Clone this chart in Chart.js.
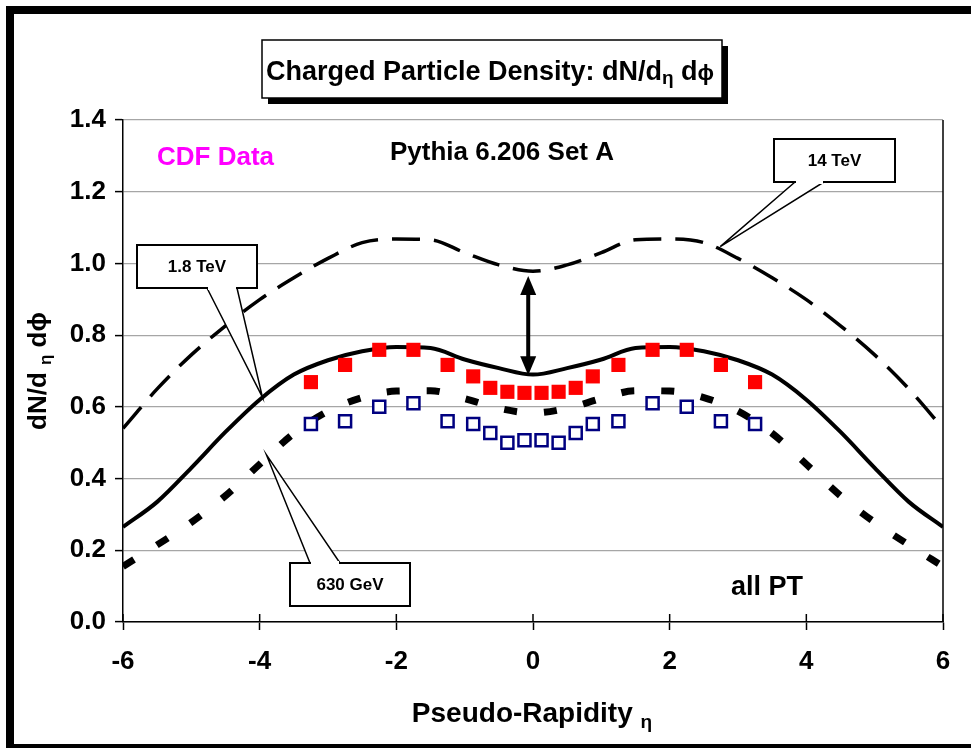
<!DOCTYPE html>
<html>
<head>
<meta charset="utf-8">
<title>Charged Particle Density</title>
<script src="https://cdn.jsdelivr.net/npm/chart.js@4.4.1/dist/chart.umd.min.js"></script>
<style>
  body { margin: 0; background: #fff; }
  #wrap { width: 971px; height: 748px; }
</style>
</head>
<body>
<div id="wrap"><canvas id="chart" width="971" height="748"></canvas></div>
<script>
// Pythia 6.206 Set A curves, sampled every 0.5 in eta
const etaGrid = [-6, -5.5, -5, -4.5, -4, -3.5, -3, -2.5, -2, -1.5, -1, -0.5, 0,
                 0.5, 1, 1.5, 2, 2.5, 3, 3.5, 4, 4.5, 5, 5.5, 6];
const pythia14TeV = [0.54, 0.65, 0.745, 0.826, 0.899, 0.96, 1.014, 1.058, 1.068, 1.066, 1.03, 0.996, 0.978,
                     0.996, 1.03, 1.066, 1.068, 1.058, 1.014, 0.96, 0.899, 0.826, 0.745, 0.65, 0.54];
const pythia18TeV = [0.265, 0.335, 0.43, 0.53, 0.62, 0.69, 0.73, 0.755, 0.767, 0.764, 0.732, 0.708, 0.69,
                     0.708, 0.732, 0.764, 0.767, 0.755, 0.73, 0.69, 0.62, 0.53, 0.43, 0.335, 0.265];
const pythia630GeV = [0.155, 0.215, 0.278, 0.352, 0.44, 0.526, 0.588, 0.626, 0.644, 0.645, 0.623, 0.596, 0.583,
                      0.596, 0.623, 0.645, 0.644, 0.626, 0.588, 0.526, 0.44, 0.352, 0.278, 0.215, 0.155];

// CDF data points
const cdfEta = [-3.25, -2.75, -2.25, -1.75, -1.25, -0.875, -0.625, -0.375, -0.125,
                0.125, 0.375, 0.625, 0.875, 1.25, 1.75, 2.25, 2.75, 3.25];
const cdf18TeV = [0.669, 0.717, 0.759, 0.759, 0.717, 0.685, 0.653, 0.642, 0.639,
                  0.639, 0.642, 0.653, 0.685, 0.717, 0.759, 0.759, 0.717, 0.669];
const cdf630GeV = [0.552, 0.56, 0.6, 0.61, 0.56, 0.552, 0.527, 0.5, 0.507,
                   0.507, 0.5, 0.527, 0.552, 0.56, 0.61, 0.6, 0.56, 0.552];

const xTicks = [-6, -4, -2, 0, 2, 4, 6];
const yTicks = [0, 0.2, 0.4, 0.6, 0.8, 1.0, 1.2, 1.4];

// callouts: label, box (px), pointer tip (data)
const callouts = [
    { text: '1.8 TeV', box: [137, 245, 120, 43], base: [207, 237], tip: [-3.96, 0.627] },
    { text: '14 TeV', box: [774, 139, 121, 43], base: [795, 824], tip: [2.74, 1.047] },
    { text: '630 GeV', box: [290, 563, 120, 43], base: [310, 340], tip: [-3.9, 0.466] }
];
const arrowEta = -0.07;
const arrowFrom = 0.965;
const arrowTo = 0.688;

const FONT = '"Liberation Sans", Arial, sans-serif';

const toXY = (xs, ys) => xs.map((x, i) => ({ x: x, y: ys[i] }));

function drawPieces(ctx, pieces, cx, y) {
    // pieces: [text, size, dy]
    let total = 0;
    pieces.forEach(p => {
        ctx.font = 'bold ' + p[1] + 'px ' + FONT;
        p.w = ctx.measureText(p[0]).width;
        total += p.w;
    });
    let x = cx - total / 2;
    ctx.textAlign = 'left';
    ctx.textBaseline = 'alphabetic';
    pieces.forEach(p => {
        ctx.font = 'bold ' + p[1] + 'px ' + FONT;
        ctx.fillText(p[0], x, y + p[2]);
        x += p.w;
    });
}

const decor = {
    id: 'decor',
    beforeDraw(chart) {
        const ctx = chart.ctx;
        ctx.save();
        ctx.fillStyle = '#fff';
        ctx.fillRect(0, 0, chart.width, chart.height);
        ctx.restore();
    },
    afterDatasetsDraw(chart) {
        const ctx = chart.ctx;
        const xs = chart.scales.x, ys = chart.scales.y;
        const area = chart.chartArea;
        ctx.save();

        // right border of plot area
        ctx.strokeStyle = '#000';
        ctx.lineWidth = 1.5;
        ctx.beginPath();
        ctx.moveTo(area.right, area.top);
        ctx.lineTo(area.right, area.bottom);
        ctx.stroke();

        // x tick marks above the axis
        xTicks.forEach(t => {
            const px = xs.getPixelForValue(t);
            ctx.beginPath();
            ctx.moveTo(px, area.bottom - 8);
            ctx.lineTo(px, area.bottom);
            ctx.stroke();
        });

        // double arrow between 1.8 TeV and 14 TeV at eta = 0
        const ax = xs.getPixelForValue(arrowEta);
        const ay1 = ys.getPixelForValue(arrowFrom);
        const ay2 = ys.getPixelForValue(arrowTo);
        ctx.fillStyle = '#000';
        ctx.lineWidth = 4;
        ctx.beginPath();
        ctx.moveTo(ax, ay1 + 14);
        ctx.lineTo(ax, ay2 - 14);
        ctx.stroke();
        ctx.beginPath();
        ctx.moveTo(ax, ay1);
        ctx.lineTo(ax - 8, ay1 + 19);
        ctx.lineTo(ax + 8, ay1 + 19);
        ctx.closePath();
        ctx.fill();
        ctx.beginPath();
        ctx.moveTo(ax, ay2);
        ctx.lineTo(ax - 8, ay2 - 19);
        ctx.lineTo(ax + 8, ay2 - 19);
        ctx.closePath();
        ctx.fill();

        // callout boxes
        callouts.forEach(c => {
            const [bx, by, bw, bh] = c.box;
            const tx = xs.getPixelForValue(c.tip[0]);
            const ty = ys.getPixelForValue(c.tip[1]);
            const edge = ty > by ? by + bh : by;
            ctx.fillStyle = '#fff';
            ctx.strokeStyle = '#000';
            ctx.lineWidth = 1.5;
            ctx.beginPath();
            ctx.moveTo(c.base[0], edge);
            ctx.lineTo(tx, ty);
            ctx.lineTo(c.base[1], edge);
            ctx.closePath();
            ctx.fill();
            ctx.stroke();
            ctx.lineWidth = 2;
            ctx.fillRect(bx, by, bw, bh);
            ctx.strokeRect(bx, by, bw, bh);
            // cover the pointer join
            ctx.fillRect(c.base[0] + 1, edge - 2, c.base[1] - c.base[0] - 2, 4);
            ctx.fillStyle = '#000';
            ctx.font = 'bold 17px ' + FONT;
            ctx.textAlign = 'center';
            ctx.textBaseline = 'middle';
            ctx.fillText(c.text, bx + bw / 2, by + bh / 2 + 1);
        });

        // in-plot labels
        ctx.font = 'bold 26px ' + FONT;
        ctx.textBaseline = 'middle';
        ctx.textAlign = 'left';
        ctx.fillStyle = '#ff00ff';
        ctx.fillText('CDF Data', 157, 158);
        ctx.fillStyle = '#000';
        ctx.fillText('Pythia 6.206 Set A', 390, 153);
        ctx.font = 'bold 27px ' + FONT;
        ctx.fillText('all PT', 731, 588);
        ctx.restore();
    },
    afterDraw(chart) {
        const ctx = chart.ctx;
        ctx.save();

        // title box with shadow
        ctx.fillStyle = '#000';
        ctx.fillRect(268, 46, 460, 58);
        ctx.fillStyle = '#fff';
        ctx.fillRect(262, 40, 460, 58);
        ctx.strokeStyle = '#000';
        ctx.lineWidth = 1.5;
        ctx.strokeRect(262, 40, 460, 58);
        ctx.fillStyle = '#000';
        drawPieces(ctx, [['Charged Particle Density: dN/d', 27, 0], ['η', 19, 4], [' d', 27, 0], ['ϕ', 22, 0]], 490, 80);

        // x axis title
        drawPieces(ctx, [['Pseudo-Rapidity ', 28, 0], ['η', 19, 6]], 532, 722);

        // y axis title
        ctx.save();
        ctx.translate(46, 371);
        ctx.rotate(-Math.PI / 2);
        drawPieces(ctx, [['dN/d ', 26, 0], ['η', 17, 5], [' dϕ', 26, 0]], 0, 0);
        ctx.restore();

        // outer frame
        ctx.fillStyle = '#000';
        ctx.fillRect(6, 6, chart.width - 6, 8);
        ctx.fillRect(6, 6, 8, chart.height - 6);
        ctx.fillRect(6, chart.height - 4, chart.width - 6, 4);
        ctx.restore();
    }
};

new Chart(document.getElementById('chart'), {
    type: 'line',
    data: {
        datasets: [
            {
                label: 'CDF 1.8 TeV',
                type: 'scatter',
                data: toXY(cdfEta, cdf18TeV),
                pointStyle: 'rect',
                pointRadius: 10,
                backgroundColor: '#ff0000',
                borderColor: '#ff0000',
                borderWidth: 0,
                order: 1
            },
            {
                label: 'CDF 630 GeV',
                type: 'scatter',
                data: toXY(cdfEta, cdf630GeV),
                pointStyle: 'rect',
                pointRadius: 8.5,
                backgroundColor: '#ffffff',
                borderColor: '#000080',
                borderWidth: 2.5,
                order: 2
            },
            {
                label: '14 TeV',
                data: toXY(etaGrid, pythia14TeV),
                borderColor: '#000',
                borderWidth: 3.5,
                borderDash: [28, 14],
                pointRadius: 0,
                cubicInterpolationMode: 'monotone',
                order: 5
            },
            {
                label: '1.8 TeV',
                data: toXY(etaGrid, pythia18TeV),
                borderColor: '#000',
                borderWidth: 4,
                pointRadius: 0,
                cubicInterpolationMode: 'monotone',
                order: 4
            },
            {
                label: '630 GeV',
                data: toXY(etaGrid, pythia630GeV),
                borderColor: '#000',
                borderWidth: 7,
                borderDash: [13, 27],
                pointRadius: 0,
                cubicInterpolationMode: 'monotone',
                order: 3
            }
        ]
    },
    options: {
        responsive: false,
        animation: false,
        events: [],
        layout: { padding: { left: 10, right: 28, top: 120, bottom: 0 } },
        plugins: {
            legend: { display: false },
            tooltip: { enabled: false }
        },
        scales: {
            x: {
                type: 'linear',
                min: -6,
                max: 6,
                afterBuildTicks: s => { s.ticks = xTicks.map(v => ({ value: v })); },
                afterFit: s => { s.height = 126; },
                border: { color: '#000', width: 1.5 },
                grid: { drawOnChartArea: false, drawTicks: true, tickLength: 8, tickColor: '#000', tickWidth: 1.5 },
                ticks: {
                    color: '#000',
                    padding: 16,
                    maxRotation: 0,
                    font: { family: FONT, size: 26, weight: 'bold' },
                    callback: v => String(v)
                }
            },
            y: {
                min: 0,
                max: 1.4,
                afterBuildTicks: s => { s.ticks = yTicks.map(v => ({ value: v })); },
                afterFit: s => { s.width = 113; },
                border: { color: '#000', width: 1.5 },
                grid: { color: '#a6a6a6', lineWidth: 1.2, tickLength: 8, tickColor: '#000', tickWidth: 1.5 },
                ticks: {
                    color: '#000',
                    padding: 9,
                    font: { family: FONT, size: 26, weight: 'bold' },
                    callback: v => Number(v).toFixed(1)
                }
            }
        }
    },
    plugins: [decor]
});
</script>
</body>
</html>
